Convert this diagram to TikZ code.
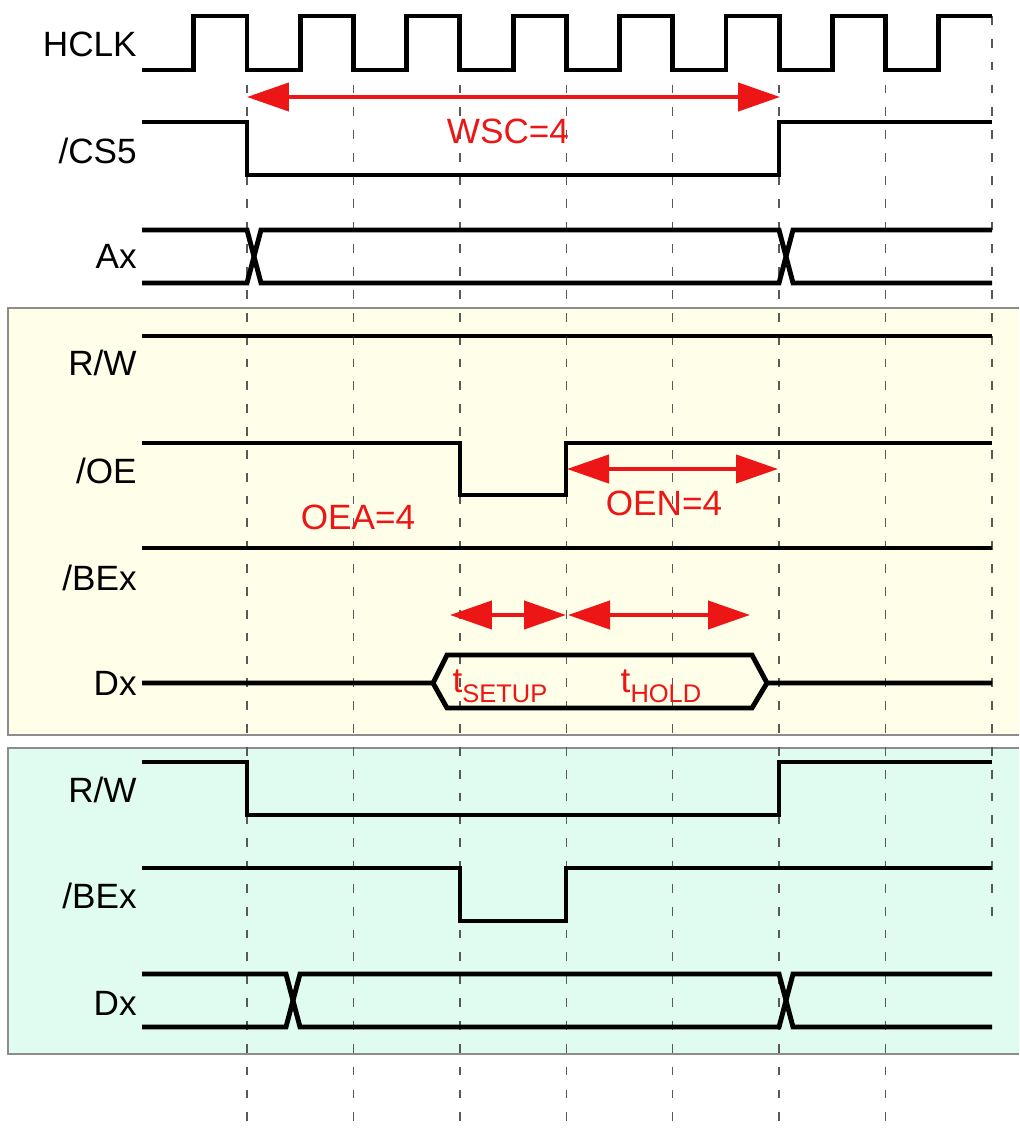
\documentclass[tikz,border=0pt]{standalone}
\usepackage{fontspec}
\setmainfont{Liberation Sans}
\usetikzlibrary{arrows.meta}
\definecolor{sigred}{RGB}{236,22,22}
\definecolor{panelyellow}{RGB}{254,254,233}
\definecolor{panelcyan}{RGB}{224,252,240}
\newcommand{\subtxt}[1]{\raisebox{-5.7pt}{\fontsize{14.5}{16}\selectfont #1}}

\begin{document}
\begin{tikzpicture}[x=0.02cm, y=-0.02cm,
    sig/.style={line width=2.8pt, line join=miter},
    gridline/.style={black!65, line width=0.7pt, dash pattern=on 5pt off 8pt},
    panel/.style={black!45, line width=0.8pt},
    lbl/.style={anchor=base east, inner sep=0pt, font=\fontsize{20}{24}\selectfont},
    tag/.style={text=sigred, inner sep=0pt, font=\fontsize{20}{24}\selectfont},
    span/.style={sigred, line width=2.4pt,
      {Triangle[length=0.84cm,width=0.56cm]}-{Triangle[length=0.84cm,width=0.56cm]}}]
    \useasboundingbox (0,0) rectangle (1019,1132);
    % panels
    \fill[panelyellow] (8,308) rectangle (1019,735);
    \draw[panel] (1019,308) -- (8,308) -- (8,735) -- (1019,735);
    \fill[panelcyan] (8,748) rectangle (1019,1054);
    \draw[panel] (1019,748) -- (8,748) -- (8,1054) -- (1019,1054);
    % clock grid
    \foreach \x in {247,353.4,459.9,566.3,672.7,779.1,885.6}
        \draw[gridline] (\x,16) -- (\x,1132);
    \draw[gridline] (992,16) -- (992,922);
    % signals
    \draw[sig] (142,70) \foreach \k in {0,...,6}{
        -- (193.8+\k*106.43,70) -- (193.8+\k*106.43,16)
        -- (247+\k*106.43,16) -- (247+\k*106.43,70)}
        -- (938.8,70) -- (938.8,16) -- (992,16);
    \draw[sig] (142,122) -- (247,122) -- (247,175) -- (779,175) -- (779,122) -- (992,122);
    \draw[sig] (142,230) -- (247,230) -- (261,283) -- (779,283) -- (793,230) -- (992,230);
    \draw[sig] (142,283) -- (247,283) -- (261,230) -- (779,230) -- (793,283) -- (992,283);
    \draw[sig] (142,336) -- (992,336);
    \draw[sig] (142,443) -- (460,443) -- (460,495) -- (566,495) -- (566,443) -- (992,443);
    \draw[sig] (142,548) -- (992,548);
    \draw[sig] (142,683) -- (433,683) -- (447,655) -- (752,655) -- (767,683) -- (992,683);
    \draw[sig] (433,683) -- (447,708) -- (752,708) -- (767,683);
    \draw[sig] (142,762) -- (247,762) -- (247,815) -- (779,815) -- (779,762) -- (992,762);
    \draw[sig] (142,868) -- (460,868) -- (460,921) -- (566,921) -- (566,868) -- (992,868);
    \draw[sig] (142,974) -- (286,974) -- (300,1027) -- (779,1027) -- (793,974) -- (992,974);
    \draw[sig] (142,1027) -- (286,1027) -- (300,974) -- (779,974) -- (793,1027) -- (992,1027);
    % labels
    \node[lbl] (hclk) at (137,57) {HCLK};
    \node[lbl] (cs) at (137,163) {/CS5};
    \node[lbl] (ax) at (137,268) {Ax};
    \node[lbl] (rwrd) at (137,375) {R/W};
    \node[lbl] (oe) at (137,483) {/OE};
    \node[lbl] (berd) at (137,590) {/BEx};
    \node[lbl] (dxrd) at (137,695) {Dx};
    \node[lbl] (rwwr) at (137,802) {R/W};
    \node[lbl] (bewr) at (137,908) {/BEx};
    \node[lbl] (dxwr) at (137,1015) {Dx};
    % timing spans
    \coordinate (wscL) at (247,97);
    \coordinate (wscR) at (780,97);
    \coordinate (oenL) at (567,469);
    \coordinate (oenR) at (778,469);
    \coordinate (setL) at (450,615);
    \coordinate (setR) at (566,615);
    \coordinate (holdL) at (568,615);
    \coordinate (holdR) at (750,615);
    \draw[span] (wscL) -- (wscR);
    \draw[span] (oenL) -- (oenR);
    \draw[span] (setL) -- (setR);
    \draw[span] (holdL) -- (holdR);
    \node[tag] (wsc) at (508,131) {WSC=4};
    \node[tag] (oea) at (358,517) {OEA=4};
    \node[tag] (oen) at (664,503) {OEN=4};
    \node[tag, anchor=base] (tsetup) at (500,692) {t\subtxt{SETUP}};
    \node[tag, anchor=base] (thold) at (661,692) {t\subtxt{HOLD}};
\end{tikzpicture}
\end{document}
